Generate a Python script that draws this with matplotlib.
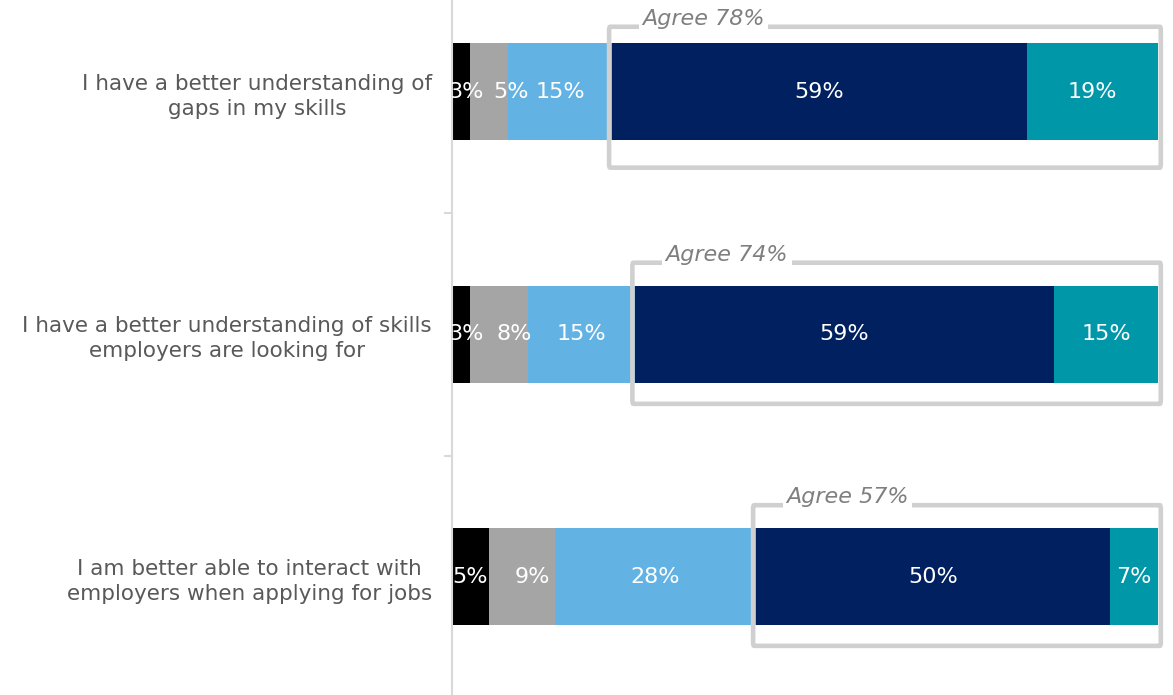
import numpy as np
import matplotlib
matplotlib.use('Agg')
import matplotlib.pyplot as plt
from matplotlib.patches import FancyBboxPatch

plt.rcParams['font.family'] = 'DejaVu Sans'

categories = ['I have a better understanding of\ngaps in my skills',
              'I have a better understanding of skills\nemployers are looking for',
              'I am better able to interact with\nemployers when applying for jobs']

# share of respondents per answer (each row adds up to 100)
strongly_disagree = [2.6, 2.6, 5.2]
disagree = [5.4, 8.1, 9.4]
neutral = [14.6, 15.2, 28.4]
agree = [58.8, 59.4, 50.2]
strongly_agree = [18.6, 14.7, 6.8]

series = [strongly_disagree, disagree, neutral, agree, strongly_agree]
colors = ['#000000', '#a5a5a5', '#62b3e4', '#002060', '#0097a9']

# small sideways shifts of some value labels (percentage points), as in the original
nudge = {(0, 0): 0.7, (1, 0): 0.7, (0, 1): 3.0, (1, 1): 2.2, (2, 1): 1.5}
# extra room of the agree box above / below each bar (row units)
box_top = [0.068, 0.095, 0.095]
box_bot = [0.113, 0.087, 0.085]

fig = plt.figure(figsize=(11.73, 6.95), dpi=100)
ax = fig.add_axes([452/1173, -3/695, 706/1173, 727.5/695])

y = np.arange(len(categories))
h = 0.4
left = np.zeros(len(categories))
for j, (vals, c) in enumerate(zip(series, colors)):
    vals = np.array(vals)
    ax.barh(y, vals, left=left, height=h, color=c, edgecolor='none')
    for i in range(len(y)):
        xc = left[i] + vals[i] / 2 + nudge.get((i, j), 0)
        ax.text(xc, y[i], '%d%%' % round(vals[i]), ha='center', va='center',
                color='white', fontsize=16, clip_on=True)
    left = left + vals

# "Agree" boxes around the two agree segments
navy_start = np.array(strongly_disagree) + np.array(disagree) + np.array(neutral)
for i in range(len(y)):
    total = round(agree[i]) + round(strongly_agree[i])
    x0 = navy_start[i] - 0.35
    x1 = 100.4
    y0 = y[i] - h / 2 - box_top[i]
    y1 = y[i] + h / 2 + box_bot[i]
    box = FancyBboxPatch((x0, y0), x1 - x0, y1 - y0,
                         boxstyle='round,pad=0,rounding_size=0.15',
                         facecolor='none', edgecolor='#d0d0d0', linewidth=3.3,
                         clip_on=False, zorder=3, mutation_aspect=0.1)
    ax.add_patch(box)
    ax.text(x0 + 4.7, y0 - 0.008, 'Agree %d%%' % total, ha='left', va='baseline',
            style='italic', color='#7f7f7f', fontsize=16, zorder=4,
            bbox=dict(facecolor='white', edgecolor='none', pad=2.5))

ax.set_xlim(0, 100)
ax.set_ylim(len(categories) - 0.5, -0.5)
ax.set_yticks(y)
ax.set_yticklabels(categories, fontsize=15.5, color='#595959', linespacing=1.32)
for lbl in ax.get_yticklabels():
    lbl.set_multialignment('center')
ax.set_yticks([0.5, 1.5], minor=True)
ax.tick_params(axis='y', which='major', length=0, pad=14.5)
ax.tick_params(axis='y', which='minor', length=6, width=1.5, color='#d9d9d9')
ax.get_xaxis().set_visible(False)
for s in ['top', 'right', 'bottom']:
    ax.spines[s].set_visible(False)
ax.spines['left'].set_color('#d9d9d9')
ax.spines['left'].set_linewidth(1.5)

fig.savefig('out.png', dpi=100)
